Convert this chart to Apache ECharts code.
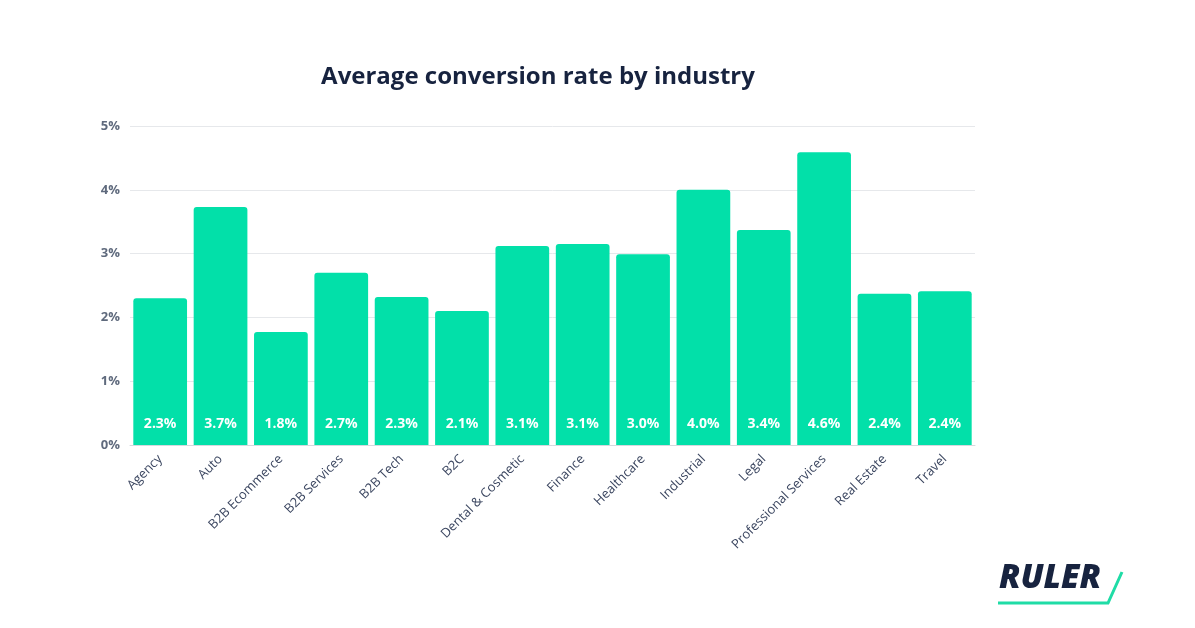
<!DOCTYPE html>
<html><head><meta charset="utf-8">
<script src="https://cdn.jsdelivr.net/npm/echarts@6/dist/echarts.min.js"></script>
<style>html,body{margin:0;padding:0;background:#fff}#c{width:1195px;height:628px}</style>
</head><body><div id="c"></div>
<script>
const categories = ["Agency","Auto","B2B Ecommerce","B2B Services","B2B Tech","B2C","Dental & Cosmetic","Finance","Healthcare","Industrial","Legal","Professional Services","Real Estate","Travel"];
const rates = [2.30,3.73,1.77,2.70,2.32,2.10,3.12,3.15,2.99,4.00,3.37,4.59,2.37,2.41];
const rateLabels = ["2.3%","3.7%","1.8%","2.7%","2.3%","2.1%","3.1%","3.1%","3.0%","4.0%","3.4%","4.6%","2.4%","2.4%"];
const yTicks = [0,1,2,3,4,5];

const chart = echarts.init(document.getElementById('c'));
chart.setOption({
  animation:false,
  backgroundColor:'#fff',
  title:{text:'Average conversion rate by industry',left:533,top:60,textAlign:'center',
    textStyle:{fontFamily:'Open Sans',fontWeight:'bold',fontSize:24,color:'#17233f'}},
  grid:{left:130,right:220,top:126,bottom:183,containLabel:false},
  xAxis:{type:'category',data:categories,
    axisLine:{lineStyle:{color:'#d6d9de'}},axisTick:{show:false},
    axisLabel:{rotate:45,interval:0,fontFamily:'Open Sans',fontSize:13,color:'#3b4660',margin:12}},
  yAxis:{type:'value',min:0,max:5,interval:1,
    axisLine:{show:false},axisTick:{show:false},
    splitLine:{lineStyle:{color:'#e6e8eb'}},
    axisLabel:{formatter:v=>v+'%',fontFamily:'Open Sans',fontWeight:'bold',fontSize:13,color:'#5f6a7d',margin:10}},
  series:[{type:'bar',data:rates,barCategoryGap:'11%',
    itemStyle:{color:'#02e0a9',borderRadius:[3,3,0,0]},
    label:{show:true,position:'insideBottom',distance:14,
      formatter:p=>rateLabels[p.dataIndex],
      fontFamily:'Open Sans',fontWeight:'bold',fontSize:14,color:'#fff'}}],
  graphic:[
    {type:'text',left:999,top:562,style:{text:'RULER',fontFamily:'Open Sans',fontStyle:'italic',fontWeight:800,fontSize:33,fill:'#17233f'}},
    {type:'polyline',shape:{points:[[998,603],[1108,603],[1122,572]]},style:{stroke:'#1fdca6',lineWidth:3,fill:null}}
  ]
});
</script></body></html>
